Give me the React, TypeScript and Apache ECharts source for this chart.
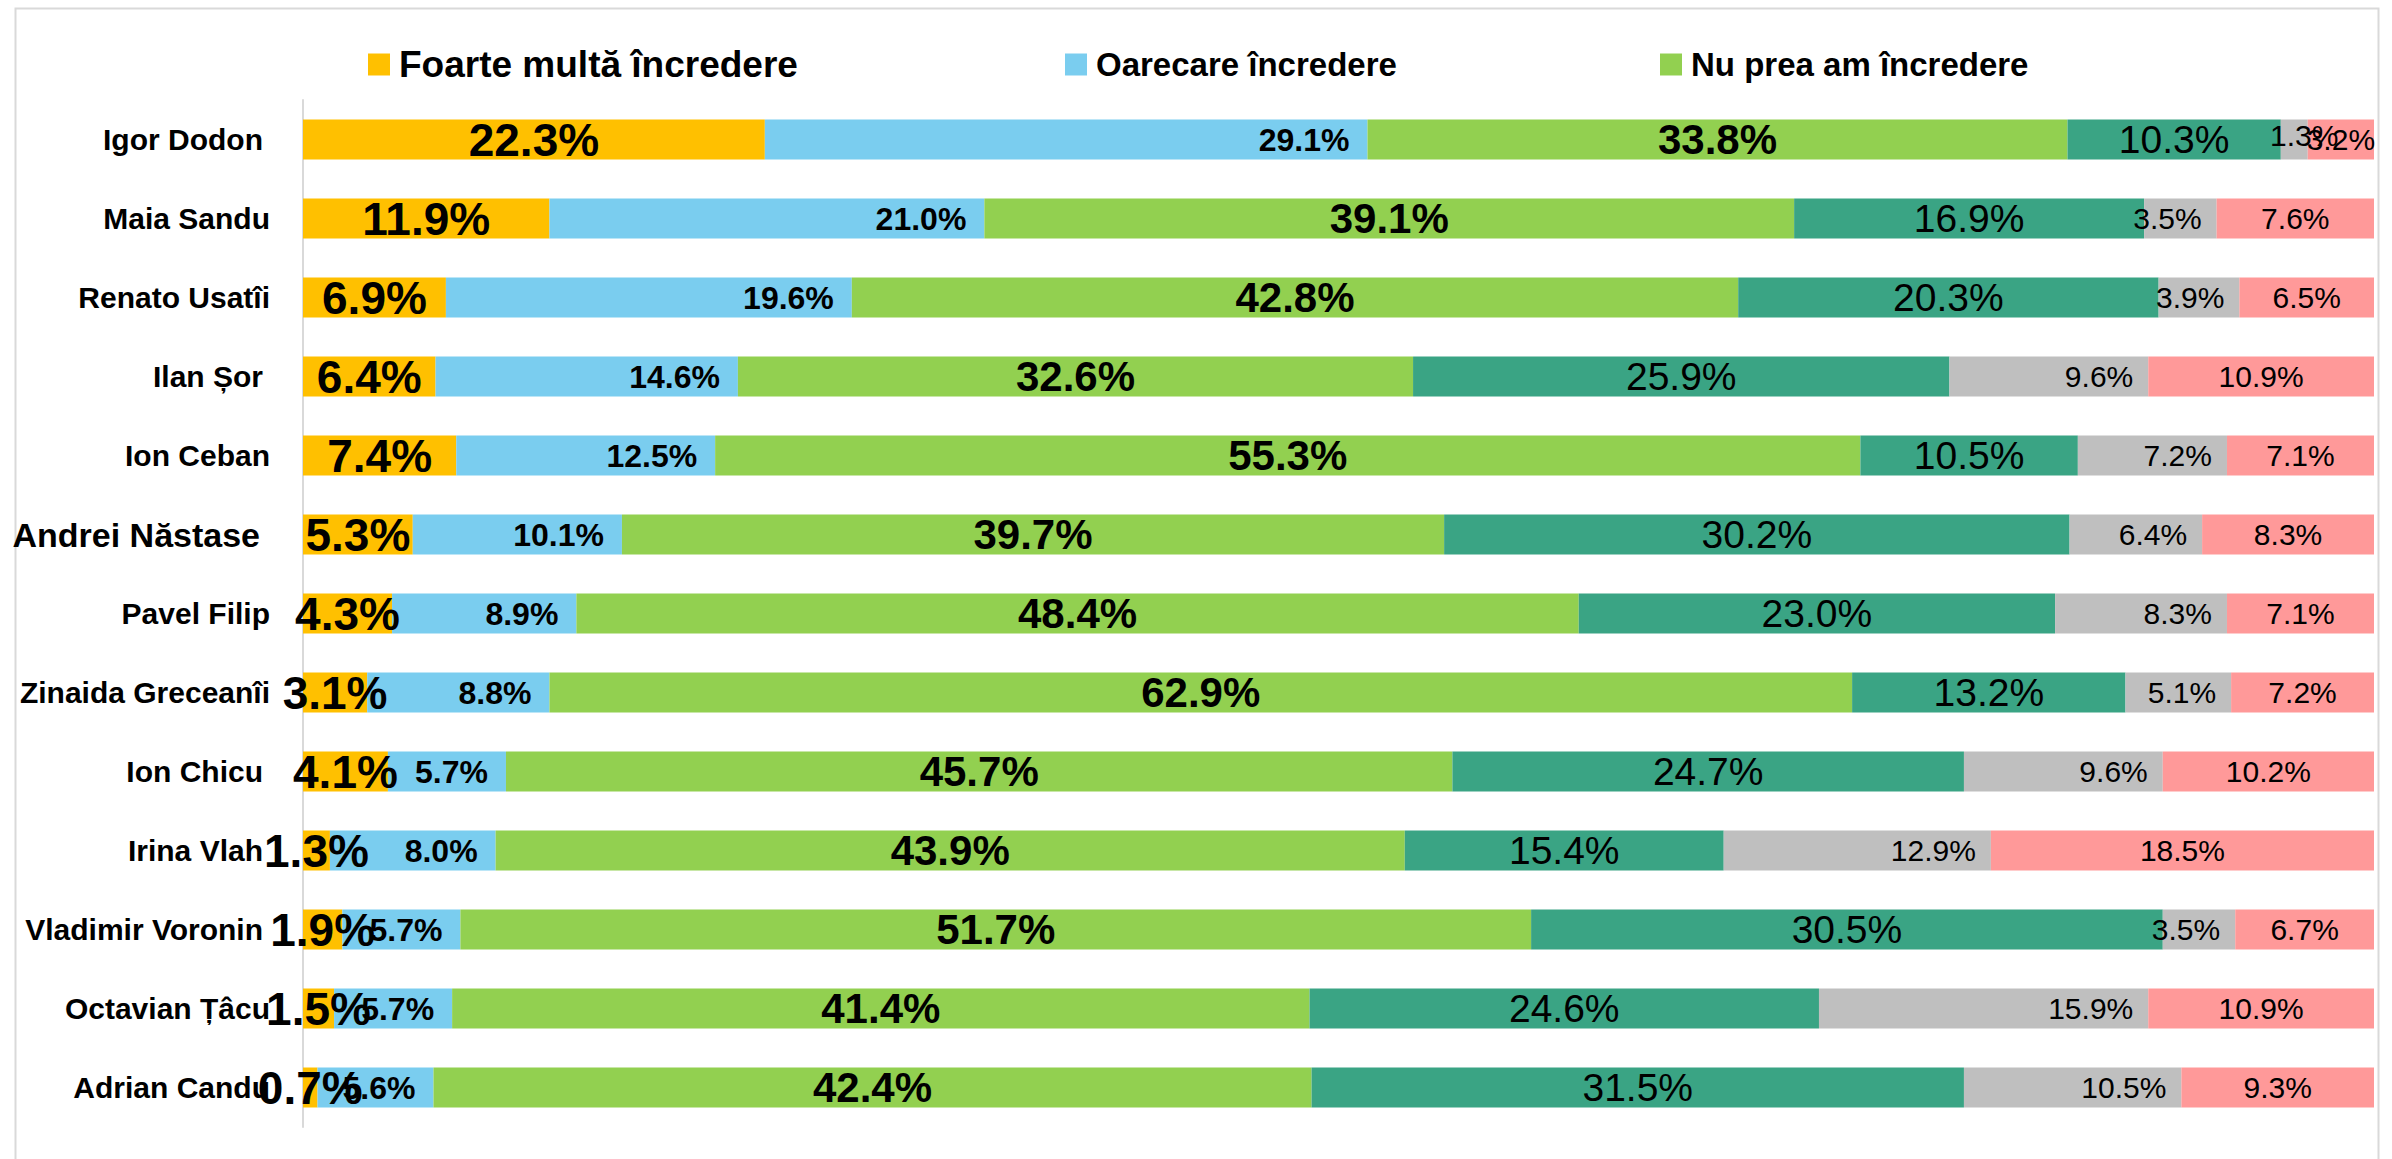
import React, { useEffect, useRef } from "react";
import * as echarts from "echarts";

const categories = [
  "Igor Dodon",
  "Maia Sandu",
  "Renato Usatîi",
  "Ilan Șor",
  "Ion Ceban",
  "Andrei Năstase",
  "Pavel Filip",
  "Zinaida Greceanîi",
  "Ion Chicu",
  "Irina Vlah",
  "Vladimir Voronin",
  "Octavian Țâcu",
  "Adrian Candu",
];

const seriesNames = [
  "Foarte multă încredere",
  "Oarecare încredere",
  "Nu prea am încredere",
  "Deloc încredere",
  "Nu cunosc",
  "Nu știu / Nu răspund",
];

const foarte = [22.3, 11.9, 6.9, 6.4, 7.4, 5.3, 4.3, 3.1, 4.1, 1.3, 1.9, 1.5, 0.7];
const oarecare = [29.1, 21.0, 19.6, 14.6, 12.5, 10.1, 8.9, 8.8, 5.7, 8.0, 5.7, 5.7, 5.6];
const nuPrea = [33.8, 39.1, 42.8, 32.6, 55.3, 39.7, 48.4, 62.9, 45.7, 43.9, 51.7, 41.4, 42.4];
const deloc = [10.3, 16.9, 20.3, 25.9, 10.5, 30.2, 23.0, 13.2, 24.7, 15.4, 30.5, 24.6, 31.5];
const nuCunosc = [1.3, 3.5, 3.9, 9.6, 7.2, 6.4, 8.3, 5.1, 9.6, 12.9, 3.5, 15.9, 10.5];
const nsnr = [3.2, 7.6, 6.5, 10.9, 7.1, 8.3, 7.1, 7.2, 10.2, 18.5, 6.7, 10.9, 9.3];

const seriesValues = [foarte, oarecare, nuPrea, deloc, nuCunosc, nsnr];
const colors = ["#FFC000", "#7ACDEF", "#92D050", "#3AA484", "#BFBFBF", "#FF9999"];

const SANS = "'Liberation Sans', Arial, sans-serif";
const NARROW = "'Liberation Sans Narrow', 'Arial Narrow', 'Liberation Sans', sans-serif";

const labelStyles = [
  { position: "inside", fontSize: 46, fontWeight: "bold", fontFamily: SANS },
  { position: "insideRight", distance: 18, fontSize: 32, fontWeight: "bold", fontFamily: SANS },
  { position: "inside", fontSize: 42, fontWeight: "bold", fontFamily: SANS },
  { position: "inside", fontSize: 39, fontWeight: "normal", fontFamily: NARROW },
  { position: "insideRight", distance: 15, fontSize: 30, fontWeight: "normal", fontFamily: NARROW },
  { position: "inside", fontSize: 30, fontWeight: "normal", fontFamily: NARROW },
];

// per-point label overrides: [seriesIndex, dataIndex, label]
const labelOverrides: [number, number, any][] = [
  [4, 0, { position: "inside", offset: [10, -4] }],
];

const legendLayout = [
  { left: 363, top: 41, fontSize: 37 },
  { left: 1060, top: 43, fontSize: 33 },
  { left: 1655, top: 43, fontSize: 33 },
];

// extra right padding of some category labels (as in the source layout)
const catLabelStyle: Record<string, any> = {
  "Igor Dodon": { padding: [0, 7, 0, 0] },
  "Ilan Șor": { padding: [0, 7, 0, 0] },
  "Ion Chicu": { padding: [0, 7, 0, 0] },
  "Irina Vlah": { padding: [0, 7, 0, 0] },
  "Vladimir Voronin": { padding: [0, 7, 0, 0] },
  "Andrei Năstase": { fontSize: 34, padding: [0, 10, 0, 0] },
};

export default function App() {
  const ref = useRef<HTMLDivElement>(null);

  useEffect(() => {
    if (!ref.current) return;
    const chart = echarts.init(ref.current, undefined, { renderer: "svg" });

    const series = seriesValues.map((vals, i) => ({
      name: seriesNames[i],
      type: "bar",
      stack: "total",
      barWidth: 40,
      data: vals.map((v, j) => {
        const o = labelOverrides.find((x) => x[0] === i && x[1] === j);
        return o ? { value: v, label: o[2] } : v;
      }),
      itemStyle: { color: colors[i] },
      label: {
        show: true,
        color: "#000",
        formatter: (p: any) => Number(p.value).toFixed(1) + "%",
        ...labelStyles[i],
      },
    }));

    chart.setOption({
      animation: false,
      backgroundColor: "#fff",
      graphic: [
        {
          type: "rect",
          left: 13,
          top: 6,
          shape: { width: 2363, height: 1200 },
          style: { fill: "none", stroke: "#d9d9d9", lineWidth: 2 },
          silent: true,
        },
      ],
      legend: legendLayout.map((l, i) => ({
        data: [seriesNames[i]],
        left: l.left,
        top: l.top,
        icon: "rect",
        itemWidth: 22,
        itemHeight: 22,
        selectedMode: false,
        textStyle: {
          fontSize: l.fontSize,
          fontWeight: "bold",
          fontFamily: SANS,
          color: "#000",
          padding: [0, 0, 0, 4],
        },
      })),
      grid: { left: 303, right: 18, top: 100, bottom: 32, containLabel: false },
      xAxis: {
        type: "value",
        min: 0,
        max: 100,
        axisLabel: { show: false },
        axisLine: { show: false },
        axisTick: { show: false },
        splitLine: { show: false },
      },
      yAxis: {
        type: "category",
        inverse: true,
        data: categories.map((c) =>
          catLabelStyle[c] ? { value: c, textStyle: catLabelStyle[c] } : c
        ),
        axisLine: { show: true, lineStyle: { color: "#d9d9d9", width: 2 } },
        axisTick: { show: false },
        axisLabel: {
          fontSize: 30,
          fontWeight: "bold",
          fontFamily: SANS,
          color: "#000",
          margin: 33,
        },
      },
      series,
    });

    return () => chart.dispose();
  }, []);

  return (
    <div
      ref={ref}
      style={{ position: "fixed", left: 0, top: 0, width: 2392, height: 1159 }}
    />
  );
}
